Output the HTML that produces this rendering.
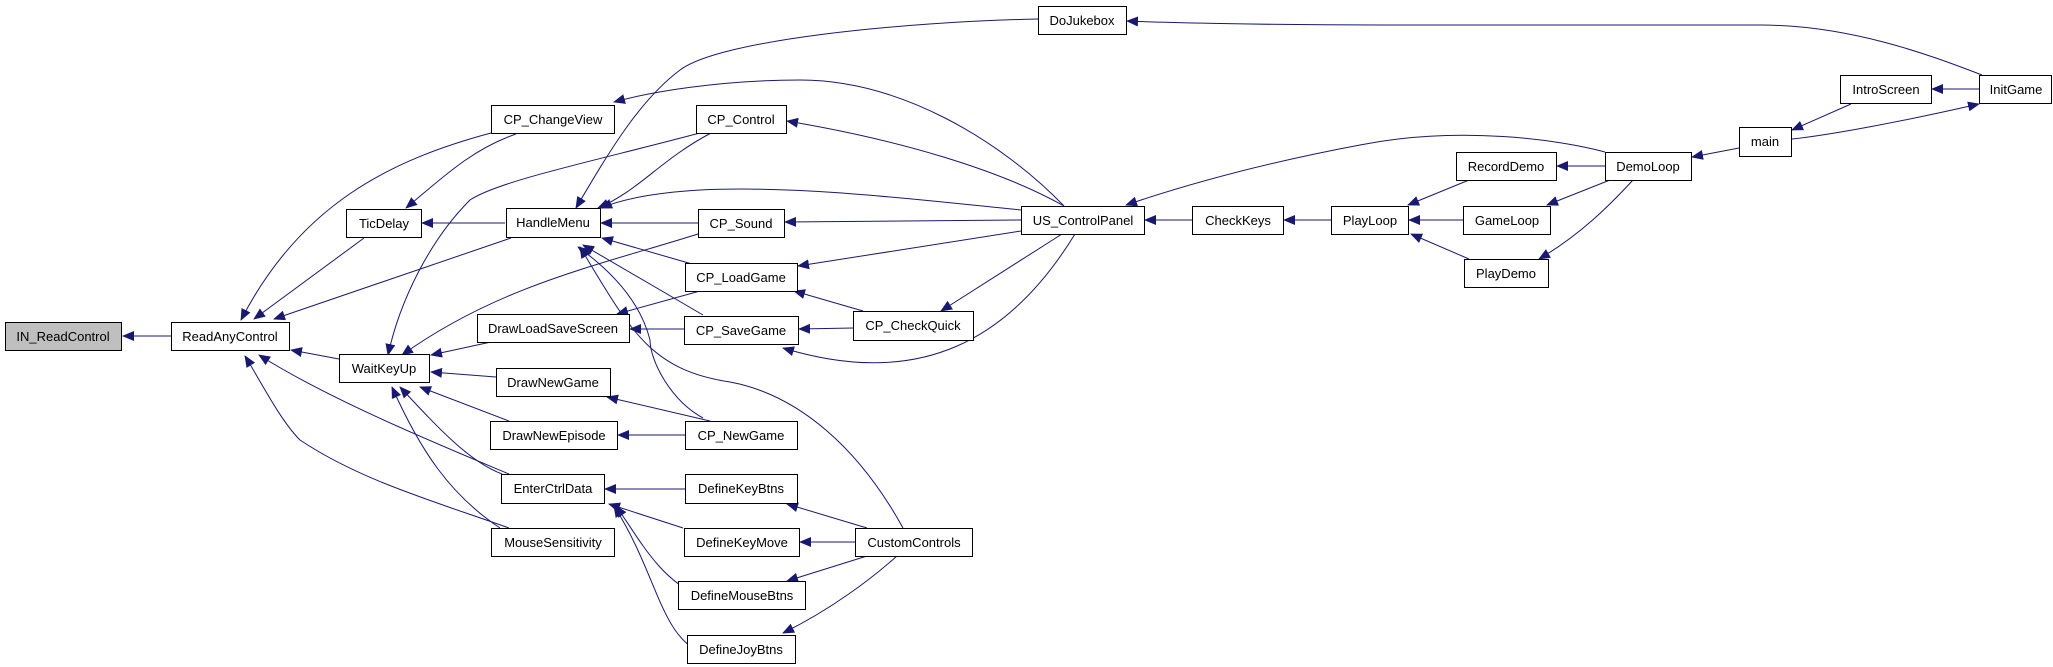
<!DOCTYPE html>
<html><head><meta charset="utf-8"><style>
html,body{margin:0;padding:0;background:#fff;}
svg{display:block;}
text{font-family:"Liberation Sans",sans-serif;font-size:13px;fill:#000;}
</style></head><body>
<svg width="2053" height="667" viewBox="0 0 2053 667" xmlns="http://www.w3.org/2000/svg">
<defs>
<marker id="a" markerUnits="userSpaceOnUse" markerWidth="12" markerHeight="10" refX="11" refY="5" orient="auto">
<path d="M0,0 L12,5 L0,10 Z" fill="#191970"/>
</marker>
</defs>
<g fill="none" stroke="#191970" stroke-width="1" marker-end="url(#a)">
<path d="M171,336 L123,336"/>
<path d="M491,133 C390,160 300,205 241,320"/>
<path d="M516,134 C470,150 440,180 406,208"/>
<path d="M364,238 L254,319"/>
<path d="M505,223 L422,223"/>
<path d="M511,238 L274,319"/>
<path d="M339,359 L291,350"/>
<path d="M509,474 C440,445 330,400 259,355"/>
<path d="M509,528 C430,500 360,480 300,440 C280,420 260,380 245,356"/>
<path d="M711,130 C600,160 500,180 470,200 C430,240 400,300 388,355"/>
<path d="M698,234 C600,265 500,285 402,355"/>
<path d="M491,342 L431,355"/>
<path d="M496,377 L431,372"/>
<path d="M509,421 L420,387"/>
<path d="M502,474 C470,462 440,430 400,387"/>
<path d="M500,528 C450,495 420,450 392,387"/>
<path d="M1038,19 C900,22 720,40 680,70 C640,100 610,150 576,208"/>
<path d="M1064,206 C1000,140 900,80 800,80 C720,80 650,92 614,102"/>
<path d="M711,133 C660,160 640,190 598,208"/>
<path d="M1021,210 C920,200 800,185 700,190 C650,193 620,200 601,208"/>
<path d="M1064,206 C1000,170 900,140 787,121"/>
<path d="M698,223 L601,223"/>
<path d="M1021,220 L785,222"/>
<path d="M692,264 L602,238"/>
<path d="M1021,231 L798,266"/>
<path d="M703,315 L583,245"/>
<path d="M903,528 C860,450 800,395 730,382 C650,370 630,330 580,247"/>
<path d="M703,418 C670,400 650,360 650,340 C640,300 610,270 578,247"/>
<path d="M700,291 L617,314"/>
<path d="M684,329 L630,329"/>
<path d="M710,421 L607,397"/>
<path d="M685,435 L618,435"/>
<path d="M685,489 L605,489"/>
<path d="M683,528 L609,504"/>
<path d="M700,596 C660,580 640,540 616,506"/>
<path d="M696,650 C660,630 655,570 614,506"/>
<path d="M867,528 L787,504"/>
<path d="M855,542 L800,542"/>
<path d="M867,556 L787,581"/>
<path d="M897,556 C870,580 830,610 783,633"/>
<path d="M863,311 L794,291"/>
<path d="M853,328 L799,329"/>
<path d="M1062,234 L941,311"/>
<path d="M1075,234 C1010,340 920,390 783,348"/>
<path d="M1192,220 L1145,220"/>
<path d="M1331,220 L1284,220"/>
<path d="M1605,152 C1560,140 1460,125 1360,145 C1280,160 1200,180 1126,205"/>
<path d="M1982,75 C1930,55 1850,25 1760,25 L1380,25 C1250,25 1150,22 1127,21"/>
<path d="M1469,180 L1408,205"/>
<path d="M1463,220 L1409,220"/>
<path d="M1469,259 L1411,234"/>
<path d="M1605,166 L1557,166"/>
<path d="M1610,180 L1547,205"/>
<path d="M1633,180 C1610,205 1580,235 1539,259"/>
<path d="M1739,148 L1692,157"/>
<path d="M1851,104 L1792,130"/>
<path d="M1979,89 L1932,89"/>
<path d="M1792,139 C1830,135 1900,122 1979,104"/>
</g>
<g stroke="#000" stroke-width="1">
<rect x="5.5" y="322.5" width="116" height="28" fill="#bfbfbf"/>
<rect x="171.5" y="322.5" width="118" height="28" fill="#fff"/>
<rect x="346.5" y="209.5" width="75" height="28" fill="#fff"/>
<rect x="491.5" y="105.5" width="123" height="28" fill="#fff"/>
<rect x="506.5" y="208.5" width="94" height="29" fill="#fff"/>
<rect x="339.5" y="354.5" width="90" height="28" fill="#fff"/>
<rect x="477.5" y="314.5" width="152" height="28" fill="#fff"/>
<rect x="496.5" y="368.5" width="114" height="28" fill="#fff"/>
<rect x="490.5" y="421.5" width="127" height="28" fill="#fff"/>
<rect x="501.5" y="474.5" width="103" height="29" fill="#fff"/>
<rect x="491.5" y="528.5" width="123" height="28" fill="#fff"/>
<rect x="1038.5" y="6.5" width="88" height="28" fill="#fff"/>
<rect x="696.5" y="105.5" width="90" height="28" fill="#fff"/>
<rect x="698.5" y="209.5" width="86" height="28" fill="#fff"/>
<rect x="1021.5" y="206.5" width="123" height="28" fill="#fff"/>
<rect x="1192.5" y="206.5" width="91" height="28" fill="#fff"/>
<rect x="1331.5" y="206.5" width="77" height="28" fill="#fff"/>
<rect x="685.5" y="263.5" width="112" height="28" fill="#fff"/>
<rect x="684.5" y="316.5" width="114" height="28" fill="#fff"/>
<rect x="853.5" y="311.5" width="120" height="29" fill="#fff"/>
<rect x="685.5" y="421.5" width="112" height="28" fill="#fff"/>
<rect x="685.5" y="474.5" width="112" height="29" fill="#fff"/>
<rect x="684.5" y="528.5" width="115" height="28" fill="#fff"/>
<rect x="855.5" y="528.5" width="117" height="28" fill="#fff"/>
<rect x="678.5" y="581.5" width="127" height="28" fill="#fff"/>
<rect x="687.5" y="635.5" width="108" height="28" fill="#fff"/>
<rect x="1979.5" y="75.5" width="72" height="28" fill="#fff"/>
<rect x="1840.5" y="75.5" width="91" height="28" fill="#fff"/>
<rect x="1739.5" y="127.5" width="52" height="29" fill="#fff"/>
<rect x="1605.5" y="152.5" width="86" height="28" fill="#fff"/>
<rect x="1456.5" y="152.5" width="100" height="28" fill="#fff"/>
<rect x="1463.5" y="206.5" width="87" height="28" fill="#fff"/>
<rect x="1464.5" y="259.5" width="84" height="28" fill="#fff"/>
</g>
<g text-anchor="middle">
<text x="63" y="341">IN_ReadControl</text>
<text x="230" y="341">ReadAnyControl</text>
<text x="384" y="228">TicDelay</text>
<text x="553" y="124">CP_ChangeView</text>
<text x="553" y="227">HandleMenu</text>
<text x="384" y="373">WaitKeyUp</text>
<text x="553" y="333">DrawLoadSaveScreen</text>
<text x="553" y="387">DrawNewGame</text>
<text x="554" y="440">DrawNewEpisode</text>
<text x="553" y="493">EnterCtrlData</text>
<text x="553" y="547">MouseSensitivity</text>
<text x="1082" y="25">DoJukebox</text>
<text x="741" y="124">CP_Control</text>
<text x="741" y="228">CP_Sound</text>
<text x="1083" y="225">US_ControlPanel</text>
<text x="1238" y="225">CheckKeys</text>
<text x="1370" y="225">PlayLoop</text>
<text x="741" y="282">CP_LoadGame</text>
<text x="741" y="335">CP_SaveGame</text>
<text x="913" y="330">CP_CheckQuick</text>
<text x="741" y="440">CP_NewGame</text>
<text x="741" y="493">DefineKeyBtns</text>
<text x="742" y="547">DefineKeyMove</text>
<text x="914" y="547">CustomControls</text>
<text x="742" y="600">DefineMouseBtns</text>
<text x="741" y="654">DefineJoyBtns</text>
<text x="2016" y="94">InitGame</text>
<text x="1886" y="94">IntroScreen</text>
<text x="1765" y="146">main</text>
<text x="1648" y="171">DemoLoop</text>
<text x="1506" y="171">RecordDemo</text>
<text x="1507" y="225">GameLoop</text>
<text x="1506" y="278">PlayDemo</text>
</g>
</svg>
</body></html>
